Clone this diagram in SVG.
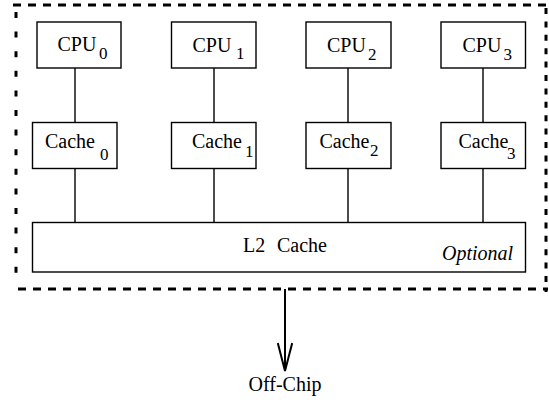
<svg xmlns="http://www.w3.org/2000/svg" width="549" height="400" viewBox="0 0 549 400">
  <style>
    .box { fill: #ffffff; stroke: #000000; stroke-width: 1.4; }
    .wire { stroke: #000000; stroke-width: 1.4; fill: none; }
    .chip { stroke: #000000; stroke-width: 3; fill: none; }
    text { fill: #000000; }
    .lbl { font-size: 20px; }
    .sub { font-size: 17px; }
    .it { font-style: italic; }
  </style>
  <defs>
    <!-- open V arrowhead, drawn pointing along +x -->
    <marker id="vhead" viewBox="0 0 30 16" refX="29" refY="8" markerWidth="30" markerHeight="16" markerUnits="userSpaceOnUse" orient="auto">
      <path d="M1,0.8 L29,8 L1,15.2" fill="none" stroke="#000000" stroke-width="2"/>
    </marker>
  </defs>

  <!-- chip boundary (dashed) -->
  <g id="chip-boundary">
    <line class="chip" x1="13" y1="5" x2="548" y2="5" stroke-dasharray="8 7"/>
    <line class="chip" x1="18" y1="289" x2="548" y2="289" stroke-dasharray="8 7"/>
    <line class="chip" x1="16" y1="12" x2="16" y2="286" stroke-dasharray="6 13.6"/>
    <line class="chip" x1="546" y1="8" x2="546" y2="292" stroke-dasharray="6 7.4"/>
  </g>

  <!-- connectors -->
  <g id="connectors">
    <line class="wire" x1="75" y1="68" x2="75" y2="122"/>
    <line class="wire" x1="214" y1="68" x2="214" y2="122"/>
    <line class="wire" x1="348" y1="68" x2="348" y2="122"/>
    <line class="wire" x1="483" y1="68" x2="483" y2="122"/>
    <line class="wire" x1="75" y1="168" x2="75" y2="222"/>
    <line class="wire" x1="214" y1="168" x2="214" y2="222"/>
    <line class="wire" x1="348" y1="168" x2="348" y2="222"/>
    <line class="wire" x1="483" y1="168" x2="483" y2="222"/>
    <line x1="285" y1="289" x2="285" y2="371" stroke="#000000" stroke-width="2" marker-end="url(#vhead)"/>
  </g>

  <g font-family="'Liberation Serif', 'DejaVu Serif', 'Times New Roman', serif">
    <!-- processors -->
    <g id="cpu0">
      <rect class="box" x="37" y="22" width="84" height="46"/>
      <text class="lbl" x="57.5" y="51">CPU</text>
      <text class="sub" x="99" y="58.5">0</text>
    </g>
    <g id="cpu1">
      <rect class="box" x="171.5" y="22" width="84.5" height="46"/>
      <text class="lbl" x="192.5" y="51.5">CPU</text>
      <text class="sub" x="236" y="59">1</text>
    </g>
    <g id="cpu2">
      <rect class="box" x="306" y="22" width="85" height="46"/>
      <text class="lbl" x="327" y="51.5">CPU</text>
      <text class="sub" x="368" y="60">2</text>
    </g>
    <g id="cpu3">
      <rect class="box" x="441" y="22" width="84.5" height="46"/>
      <text class="lbl" x="462.5" y="51.5">CPU</text>
      <text class="sub" x="503.5" y="60">3</text>
    </g>

    <!-- private caches -->
    <g id="cache0">
      <rect class="box" x="32.5" y="122.5" width="84.5" height="46"/>
      <text class="lbl" x="45" y="148">Cache</text>
      <text class="sub" x="100" y="159.5">0</text>
    </g>
    <g id="cache1">
      <rect class="box" x="171.5" y="122.5" width="84.5" height="46"/>
      <text class="lbl" x="192" y="148">Cache</text>
      <text class="sub" x="245" y="156.5">1</text>
    </g>
    <g id="cache2">
      <rect class="box" x="306" y="122.5" width="85" height="46"/>
      <text class="lbl" x="319.5" y="148">Cache</text>
      <text class="sub" x="370" y="155.5">2</text>
    </g>
    <g id="cache3">
      <rect class="box" x="441" y="122.5" width="84.5" height="46"/>
      <text class="lbl" x="458.5" y="148">Cache</text>
      <text class="sub" x="507" y="159">3</text>
    </g>

    <!-- shared second-level cache -->
    <g id="l2-cache">
      <rect class="box" x="32.5" y="222.5" width="493" height="49.5"/>
      <text class="lbl" x="243" y="252">L2</text>
      <text class="lbl" x="277" y="252">Cache</text>
      <text class="lbl it" x="442" y="260">Optional</text>
    </g>

    <!-- off-chip label -->
    <g id="off-chip">
      <text class="lbl" x="285" y="391" text-anchor="middle">Off-Chip</text>
    </g>
  </g>
</svg>
